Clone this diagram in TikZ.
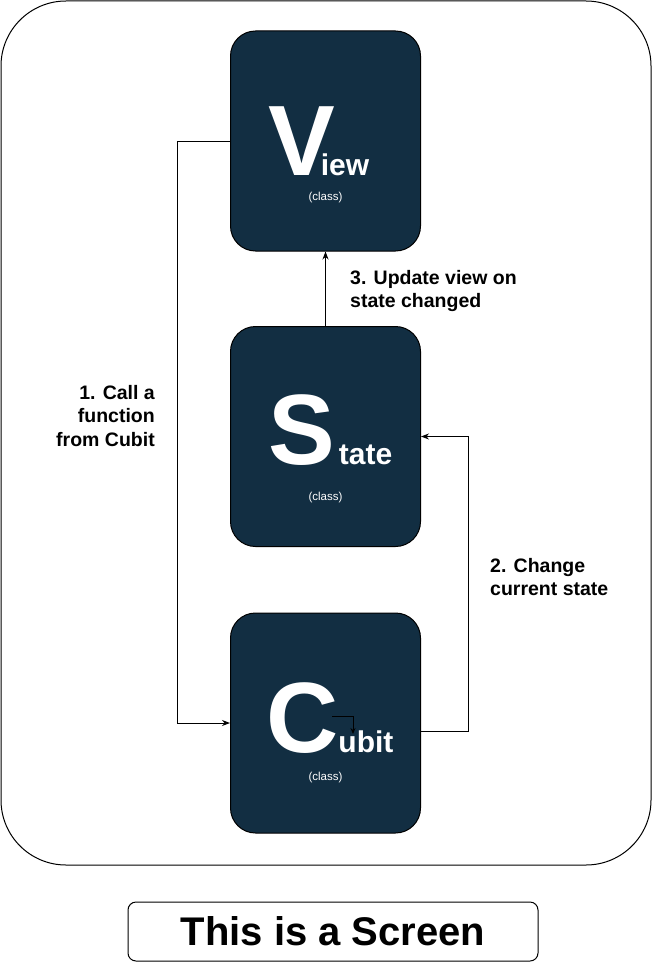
\documentclass[tikz,border=0pt]{standalone}
\usepackage{fontspec}
\setmainfont{Liberation Sans}
\usepackage{tikz}
\usetikzlibrary{arrows.meta}
\usetikzlibrary{positioning}

\definecolor{boxnavy}{RGB}{18,46,66}

\begin{document}
\begin{tikzpicture}[x=1pt,y=-1pt,
  classbox/.style={draw=black,fill=boxnavy,line width=1pt,rounded corners=25pt,
    minimum width=190pt,minimum height=220pt,inner sep=0pt},
  bigword/.style={text=white,inner sep=0pt,text depth=0pt,
    font=\fontsize{30}{30}\selectfont\bfseries},
  classtag/.style={text=white,inner sep=0pt,text height=8pt,text depth=2pt,
    font=\fontsize{11.5}{13}\selectfont},
  note/.style={inner sep=0pt,font=\fontsize{19.5}{23.5}\selectfont\bfseries},
  arr/.style={line width=1pt,-{Stealth[length=8pt,width=6pt]}}]
  \useasboundingbox (0,0) rectangle (652,963);

  % screen frame
  \node[draw=black,line width=1pt,rounded corners=65pt,minimum width=650pt,
    minimum height=864pt] (frame) at (326,433) {};

  % classes
  \node[classbox] (view) at (325.5,141) {};
  \node[classbox] (state) at (325.5,436.5) {};
  \node[classbox] (cubit) at (325.5,723) {};

  % class names
  \node[bigword,anchor=base west] (viewname) at (268,175)
    {{\fontsize{100}{100}\selectfont V}\kern-14pt iew};
  \node[bigword,anchor=base west] (statename) at (268,464)
    {{\fontsize{100}{100}\selectfont S}\kern4pt tate};
  \node[bigword,anchor=base west] (cubitname) at (266,752)
    {{\fontsize{100}{100}\selectfont C}ubit};
  \node[classtag] (viewtag) at (325.5,197) {(class)};
  \node[classtag] (statetag) at (325.5,497) {(class)};
  \node[classtag] (cubittag) at (325.5,777) {(class)};

  % connectors
  \draw[arr] (view.west) -- ++(-53,0) |- (cubit.west);
  \draw[arr] ([yshift=-8pt]cubit.east) -- ++(47,0) |- (state.east);
  \draw[arr] (state.north) -- (view.south);

  % stray link inside cubit
  \coordinate (cfrom) at (332,716);
  \coordinate (cto) at (353,734);
  \draw[line width=1pt,-{Stealth[length=6pt,width=5pt]}] (cfrom) -| (cto);

  % labels
  \node[note,align=right,anchor=north east] (callnote) at (155,385)
    {1. Call a\\function\\from Cubit};
  \node[note,align=left,anchor=north west] (changenote) at (490,558)
    {2. Change\\current state};
  \node[note,align=left,anchor=north west] (updatenote) at (350,270)
    {3. Update view on\\state changed};

  % caption
  \node[draw=black,line width=1pt,rounded corners=8pt,minimum width=410pt,
    minimum height=59pt,font=\fontsize{40}{40}\selectfont\bfseries] (screen)
    at (333,931.5) {This is a Screen};
\end{tikzpicture}
\end{document}
